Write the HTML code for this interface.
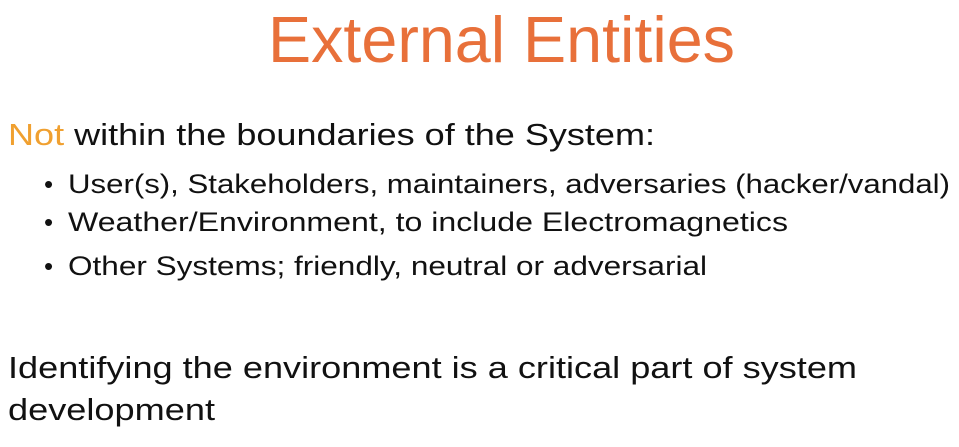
<!DOCTYPE html>
<html><head><meta charset="utf-8"><style>
html,body{margin:0;padding:0;background:#fff;width:959px;height:447px;overflow:hidden}
svg{display:block}
text{font-family:"Liberation Sans",sans-serif}
</style></head><body>
<svg width="959" height="447" viewBox="0 0 959 447">
<text x="268" y="62" font-size="65" fill="#E8703A" textLength="467" lengthAdjust="spacingAndGlyphs">External Entities</text>
<text x="8" y="145" font-size="31" fill="#111" textLength="647" lengthAdjust="spacingAndGlyphs"><tspan fill="#F0A030">Not</tspan> within the boundaries of the System:</text>
<text x="44" y="193" font-size="26" fill="#111">•</text>
<text x="68" y="193" font-size="27" fill="#111" textLength="882" lengthAdjust="spacingAndGlyphs">User(s), Stakeholders, maintainers, adversaries (hacker/vandal)</text>
<text x="44" y="231" font-size="26" fill="#111">•</text>
<text x="68" y="231" font-size="27" fill="#111" textLength="720" lengthAdjust="spacingAndGlyphs">Weather/Environment, to include Electromagnetics</text>
<text x="44" y="275" font-size="26" fill="#111">•</text>
<text x="68" y="275" font-size="27" fill="#111" textLength="639" lengthAdjust="spacingAndGlyphs">Other Systems; friendly, neutral or adversarial</text>
<text x="8" y="378" font-size="31" fill="#111" textLength="849" lengthAdjust="spacingAndGlyphs">Identifying the environment is a critical part of system</text>
<text x="8" y="420" font-size="31" fill="#111" textLength="207" lengthAdjust="spacingAndGlyphs">development</text>
</svg>
</body></html>
